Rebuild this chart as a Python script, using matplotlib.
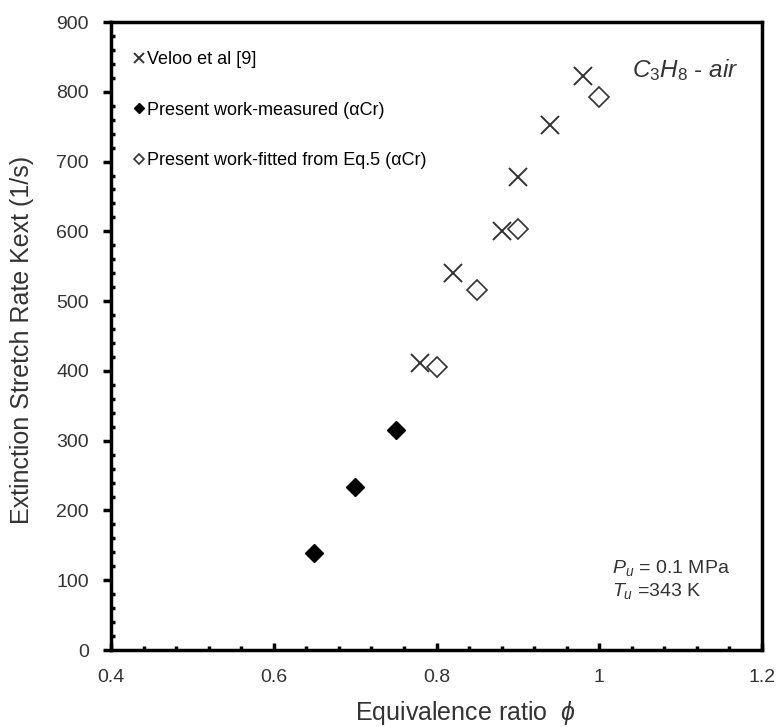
import matplotlib
matplotlib.use("Agg")
import matplotlib.pyplot as plt
from matplotlib.ticker import MultipleLocator

plt.rcParams['font.family'] = ['Liberation Sans', 'DejaVu Sans']
plt.rcParams['mathtext.fontset'] = 'custom'
plt.rcParams['mathtext.rm'] = 'Liberation Sans'
plt.rcParams['mathtext.it'] = 'Liberation Sans:italic'

# data
veloo_phi = [0.78, 0.82, 0.88, 0.90, 0.94, 0.98]
veloo_k = [411, 540, 601, 678, 752, 822]
meas_phi = [0.65, 0.70, 0.75]
meas_k = [139, 234, 315]
fit_phi = [0.80, 0.85, 0.90, 1.00]
fit_k = [405, 516, 603, 793]

fig = plt.figure(figsize=(7.83, 7.27), dpi=100)
ax = fig.add_axes([0.1418, 0.1059, 0.8314, 0.8638])

ax.plot(veloo_phi, veloo_k, linestyle='none', marker='x', ms=13, mew=1.4,
        color='#333333', label='Veloo et al [9]')
ax.plot(meas_phi, meas_k, linestyle='none', marker='D', ms=9.5,
        color='black', label='Present work-measured (\u03b1Cr)')
ax.plot(fit_phi, fit_k, linestyle='none', marker='D', ms=10, mew=1.2,
        mfc='white', mec='#333333', label='Present work-fitted from Eq.5 (\u03b1Cr)')

ax.set_xlim(0.4, 1.2)
ax.set_ylim(0, 900)
ax.xaxis.set_major_locator(MultipleLocator(0.2))
ax.xaxis.set_minor_locator(MultipleLocator(0.04))
ax.yaxis.set_major_locator(MultipleLocator(100))
ax.yaxis.set_minor_locator(MultipleLocator(20))
ax.set_xticks([0.4, 0.6, 0.8, 1.0, 1.2], ['0.4', '0.6', '0.8', '1', '1.2'])

for s in ax.spines.values():
    s.set_linewidth(2.5)
ax.tick_params(axis='x', which='major', direction='in', length=5, width=2.5,
               labelsize=14, pad=14, colors='black', labelcolor='#333333')
ax.tick_params(axis='x', which='minor', direction='in', length=3, width=2.5)
ax.tick_params(axis='y', which='major', direction='out', length=6, width=2.5,
               labelsize=14, pad=10, labelcolor='#333333')
ax.tick_params(axis='y', which='minor', direction='in', length=3, width=2.5)

ax.set_xlabel('Equivalence ratio  $\\phi$', fontsize=18, color='#333333')
ax.xaxis.set_label_coords(0.544, -0.078)
ax.set_ylabel('Extinction Stretch Rate Kext (1/s)', fontsize=18, color='#333333')
ax.yaxis.set_label_coords(-0.137, 0.494)
ax.yaxis.label.set_va('center')

ax.legend(loc='upper left', frameon=False, fontsize=13, markerscale=0.5,
          handlelength=0.5, handletextpad=0.2, labelspacing=1.85,
          borderaxespad=0.0, bbox_to_anchor=(0.025, 0.965))

ax.text(0.882, 0.924, '$C_3H_8$ - $\\mathit{air}$', transform=ax.transAxes,
        ha='center', va='center', fontsize=17.5, color='#333333')
ax.text(0.77, 0.13, '$P_u$ = 0.1 MPa', transform=ax.transAxes,
        ha='left', va='center', fontsize=14, color='#333333')
ax.text(0.77, 0.094, '$T_u$ =343 K', transform=ax.transAxes,
        ha='left', va='center', fontsize=14, color='#333333')

fig.savefig('out.png', dpi=100)
